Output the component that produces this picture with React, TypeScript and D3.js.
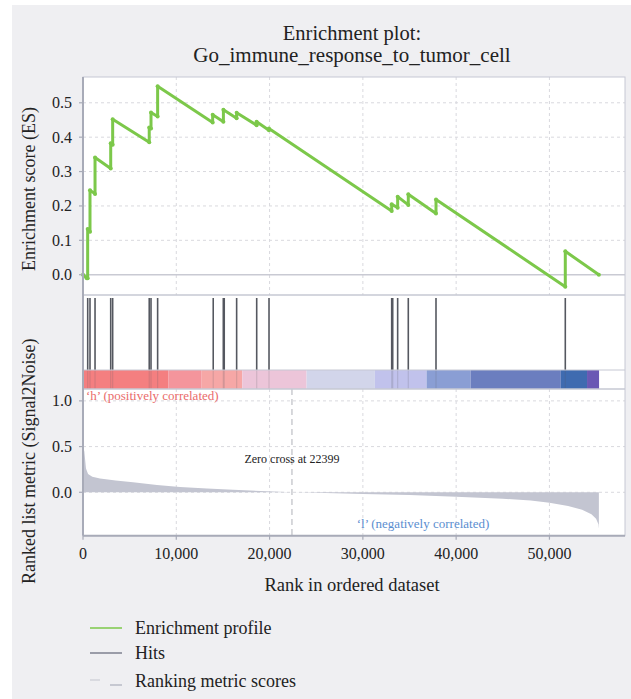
import React from "react";
import * as d3 from "d3";

// ---- data ----
const esRanks = [0, 400, 500, 500, 750, 750, 1290, 1290, 2970, 2970, 3180, 3180, 7100, 7100, 7290, 7290, 8000, 8000, 13900, 13900, 15050, 15050, 16470, 16470, 18610, 18610, 19930, 19930, 33090, 33090, 33730, 33730, 34870, 34870, 37840, 37840, 51700, 51700, 55300];
const esValues = [0.0, -0.01, -0.01, 0.133, 0.125, 0.246, 0.235, 0.341, 0.309, 0.382, 0.378, 0.452, 0.385, 0.428, 0.425, 0.472, 0.46, 0.548, 0.443, 0.465, 0.445, 0.48, 0.455, 0.471, 0.435, 0.445, 0.42, 0.425, 0.185, 0.205, 0.195, 0.227, 0.203, 0.234, 0.178, 0.219, -0.035, 0.068, 0.0];

const hitRanks = [504, 750, 1290, 2970, 3180, 7100, 7290, 8000, 13960, 15040, 15140, 16470, 18620, 19940, 33090, 33200, 33730, 34870, 37840, 51700];

const metricRanks = [0, 140, 320, 540, 1000, 1820, 3500, 5360, 7930, 10400, 13290, 16080, 19720, 22399, 24000, 30000, 35000, 40000, 45000, 48000, 50000, 52000, 53500, 54500, 55000, 55250, 55300, 55300];
const metricValues = [0.5, 0.45, 0.26, 0.2, 0.17, 0.15, 0.13, 0.11, 0.08, 0.058, 0.042, 0.028, 0.012, 0.0, -0.002, -0.018, -0.03, -0.048, -0.07, -0.09, -0.115, -0.15, -0.19, -0.24, -0.29, -0.35, -0.4, 0];

const barBounds = [0, 9140, 12720, 17070, 23970, 31290, 36830, 41540, 51220, 54030, 55320];
const barColors = ["#f47f80", "#f4959c", "#f6a7a6", "#ecc5d9", "#d2d5ea", "#c1c2ec", "#8a9ed4", "#6b7ebf", "#3f6bb0", "#6a58b4"];

const xTicks = [0, 10000, 20000, 30000, 40000, 50000];
const esTicks = [0.0, 0.1, 0.2, 0.3, 0.4, 0.5];
const metricTicks = [0.0, 0.5, 1.0];
const zeroCross = 22399;
const totalRank = 58100;

const FONT = "'Liberation Serif', 'Times New Roman', serif";

export default function App() {
  const W = 631, H = 699;
  const left = 83, right = 625;
  const topY0 = 77, topY1 = 295;
  const hitY0 = 295, hitY1 = 389, barY0 = 370;
  const botY0 = 389, botY1 = 535.7;

  const x = d3.scaleLinear().domain([0, totalRank]).range([left, right]);
  const yES = d3.scaleLinear().domain([-0.059, 0.575]).range([topY1, topY0]);
  const yM = d3.scaleLinear().domain([-0.475, 1.13]).range([botY1, botY0]);

  const esPts = esRanks.map((r, i) => [r, esValues[i]] as [number, number]);
  const esLine = d3.line<[number, number]>().x(d => x(d[0])).y(d => yES(d[1]))(esPts) || "";

  const mPts = metricRanks.map((r, i) => [r, metricValues[i]] as [number, number]);
  const mArea = d3.area<[number, number]>().x(d => x(d[0])).y0(yM(0)).y1(d => yM(d[1]))(mPts) || "";

  const fmt = d3.format(",");
  const gridColor = "#d9d9de";
  const borderColor = "#c6c8d3";
  const axisColor = "#a8abb8";

  return (
    <svg width={W} height={H} style={{ position: "absolute", left: 0, top: 0 }} fontFamily={FONT}>
      <rect x={0} y={0} width={W} height={H} fill="#ffffff" />
      <rect x={12} y={5} width={W - 12} height={H - 5} fill="#efeff2" />

      {/* title */}
      <text x={352} y={40} textAnchor="middle" fontSize={20.5} fill="#222">Enrichment plot:</text>
      <text x={352} y={62} textAnchor="middle" fontSize={21} fill="#222">Go_immune_response_to_tumor_cell</text>

      {/* panel backgrounds */}
      <rect x={left} y={topY0} width={right - left} height={botY1 - topY0} fill="#ffffff" />

      {/* top grid */}
      {xTicks.slice(1).map(t => (
        <line key={"gx" + t} x1={x(t)} x2={x(t)} y1={topY0} y2={topY1} stroke={gridColor} strokeDasharray="3,3" />
      ))}
      {esTicks.slice(1).map(t => (
        <line key={"gy" + t} x1={left} x2={right} y1={yES(t)} y2={yES(t)} stroke={gridColor} strokeDasharray="3,3" />
      ))}
      <line x1={left} x2={right} y1={yES(0)} y2={yES(0)} stroke="#c9cad3" strokeWidth={1.5} />

      {/* bottom grid */}
      {xTicks.slice(1).map(t => (
        <line key={"bgx" + t} x1={x(t)} x2={x(t)} y1={botY0} y2={botY1} stroke={gridColor} strokeDasharray="3,3" />
      ))}
      {metricTicks.map(t => (
        <line key={"bgy" + t} x1={left} x2={right} y1={yM(t)} y2={yM(t)} stroke={gridColor} strokeDasharray="3,3" />
      ))}

      {/* ES curve */}
      <path d={esLine} fill="none" stroke="#7cc84a" strokeWidth={3} strokeLinejoin="round" />
      {esPts.map((d, i) => (
        <circle key={"m" + i} cx={x(d[0])} cy={yES(d[1])} r={2} fill="#7cc84a" />
      ))}

      {/* hits */}
      {hitRanks.map((r, i) => (
        <line key={"h" + i} x1={x(r)} x2={x(r)} y1={hitY0 + 3} y2={barY0} stroke="#555860" strokeWidth={1.6} />
      ))}
      {/* color bar */}
      {barColors.map((c, i) => (
        <rect key={"b" + i} x={x(barBounds[i])} y={barY0} width={x(barBounds[i + 1]) - x(barBounds[i])} height={hitY1 - barY0} fill={c} />
      ))}
      {hitRanks.map((r, i) => (
        <line key={"hb" + i} x1={x(r)} x2={x(r)} y1={barY0} y2={hitY1} stroke="#555860" strokeWidth={1.2} opacity={0.18} />
      ))}

      {/* ranking metric */}
      <path d={mArea} fill="#c3c5d1" />
      <line x1={x(zeroCross)} x2={x(zeroCross)} y1={botY0} y2={botY1} stroke="#c2c3c9" strokeWidth={1.3} strokeDasharray="6,4" />
      <text x={x(zeroCross)} y={463} textAnchor="middle" fontSize={12} fill="#222">Zero cross at {zeroCross}</text>
      <text x={86} y={400} fontSize={13} fill="#ea6b6b">‘h’ (positively correlated)</text>
      <text x={423} y={528} textAnchor="middle" fontSize={13} fill="#5b8ed0">‘l’ (negatively correlated)</text>

      {/* borders */}
      <rect x={left} y={topY0} width={right - left} height={botY1 - topY0} fill="none" stroke={borderColor} strokeWidth={1} />
      <line x1={left} x2={right} y1={topY1} y2={topY1} stroke={borderColor} strokeWidth={1.5} />
      <line x1={left} x2={right} y1={barY0} y2={barY0} stroke={borderColor} strokeWidth={1} />
      <line x1={left} x2={right} y1={botY0} y2={botY0} stroke={borderColor} strokeWidth={1.5} />
      <line x1={left} x2={left} y1={topY0} y2={botY1} stroke={axisColor} strokeWidth={2} />
      <line x1={left} x2={right} y1={botY1} y2={botY1} stroke={axisColor} strokeWidth={2} />

      {/* y ticks top */}
      {esTicks.map(t => (
        <g key={"yt" + t}>
          <line x1={left - 4} x2={left} y1={yES(t)} y2={yES(t)} stroke={axisColor} strokeWidth={1.2} />
          <text x={72} y={yES(t) + 5.5} textAnchor="end" fontSize={16} fill="#222">{t.toFixed(1)}</text>
        </g>
      ))}
      {metricTicks.map(t => (
        <g key={"myt" + t}>
          <line x1={left - 4} x2={left} y1={yM(t)} y2={yM(t)} stroke={axisColor} strokeWidth={1.2} />
          <text x={72} y={yM(t) + 5.5} textAnchor="end" fontSize={16} fill="#222">{t.toFixed(1)}</text>
        </g>
      ))}
      {/* x ticks */}
      {xTicks.map(t => (
        <g key={"xt" + t}>
          <line x1={x(t)} x2={x(t)} y1={botY1} y2={botY1 + 4} stroke={axisColor} strokeWidth={1.2} />
          <text x={x(t)} y={559} textAnchor="middle" fontSize={16} fill="#222">{fmt(t)}</text>
        </g>
      ))}

      {/* axis titles */}
      <text x={352} y={591} textAnchor="middle" fontSize={18.5} fill="#222">Rank in ordered dataset</text>
      <text transform="translate(35,271) rotate(-90)" textAnchor="start" fontSize={18} fill="#222">Enrichment score (ES)</text>
      <text transform="translate(35,584) rotate(-90)" textAnchor="start" fontSize={18} fill="#222">Ranked list metric (Signal2Noise)</text>

      {/* legend */}
      <line x1={90} x2={122} y1={628} y2={628} stroke="#7cc84a" strokeWidth={1.5} />
      <text x={135} y={634} fontSize={18} fill="#222">Enrichment profile</text>
      <line x1={90} x2={122} y1={653} y2={653} stroke="#9a9ca8" strokeWidth={2} />
      <text x={135} y={659} fontSize={18} fill="#222">Hits</text>
      <line x1={90} x2={100} y1={680} y2={680} stroke="#d2d3da" strokeWidth={1.5} />
      <line x1={110} x2={122} y1={685} y2={685} stroke="#b9bbc6" strokeWidth={1.5} />
      <text x={135} y={687} fontSize={18} fill="#222">Ranking metric scores</text>
    </svg>
  );
}
